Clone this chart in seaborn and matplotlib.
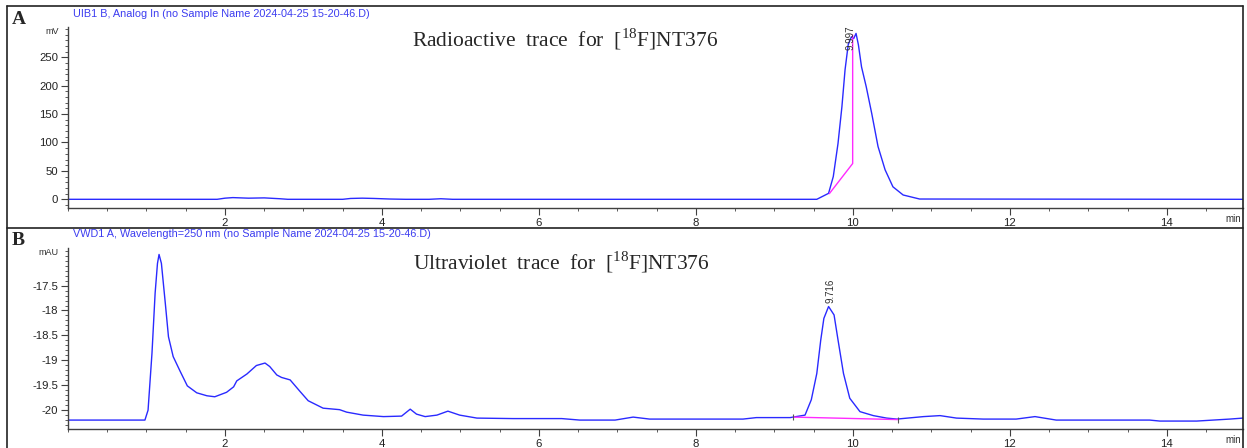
import numpy as np
import pandas as pd
import matplotlib
matplotlib.use('Agg')
import matplotlib.pyplot as plt
import matplotlib.ticker as mticker
from matplotlib.lines import Line2D
import seaborn as sns

# Radioactive trace (panel A)
rad_time = [0, 1.9, 2.0, 2.1, 2.3, 2.5, 2.7, 2.8, 3.5, 3.6, 3.75, 3.9, 4.1, 4.3, 4.6, 4.75, 4.9,
            9.54, 9.69, 9.75, 9.81, 9.86, 9.90, 9.94, 9.98, 10.01, 10.04, 10.07, 10.11, 10.17,
            10.24, 10.32, 10.41, 10.51, 10.64, 10.85, 15]
rad_mv = [0, 0, 2, 3, 2, 2.5, 1, 0, 0, 1.5, 2, 1.5, 0.5, 0, 0, 1, 0,
          0, 10.5, 40, 98, 163, 228, 272, 286, 283, 292, 272, 233, 198,
          151, 93, 52, 22, 7.6, 0.5, 0]
rad_int_time = [9.70, 9.997, 9.997]
rad_int_mv = [10, 63, 289]
rad_peak = 9.997

# UV trace (panel B)
uv_time = [0, 0.98, 1.02, 1.07, 1.11, 1.14, 1.16, 1.19, 1.24, 1.28, 1.34, 1.43, 1.52, 1.64, 1.77,
           1.87, 2.02, 2.11, 2.15, 2.28, 2.40, 2.51, 2.57, 2.66, 2.72, 2.83, 2.96, 3.06, 3.25,
           3.46, 3.55, 3.76, 4.02, 4.25, 4.36, 4.44, 4.55, 4.70, 4.84, 4.99, 5.21, 5.67, 6.29,
           6.52, 6.97, 7.20, 7.41, 8.22, 8.60, 8.77, 9.20, 9.39, 9.47, 9.54, 9.59, 9.63, 9.69,
           9.76, 9.81, 9.88, 9.96, 10.09, 10.26, 10.43, 10.56, 10.90, 11.11, 11.32, 11.66,
           12.08, 12.32, 12.59, 13.78, 13.91, 14.38, 14.80, 14.97]
uv_mau = [-20.21, -20.21, -20.01, -18.86, -17.65, -17.05, -16.87, -17.05, -17.86, -18.53, -18.93,
          -19.23, -19.52, -19.66, -19.72, -19.74, -19.65, -19.54, -19.42, -19.28, -19.11, -19.06,
          -19.13, -19.30, -19.35, -19.40, -19.64, -19.82, -19.97, -20.00, -20.05, -20.11, -20.14,
          -20.13, -19.99, -20.09, -20.14, -20.11, -20.03, -20.11, -20.17, -20.18, -20.18, -20.21,
          -20.21, -20.15, -20.19, -20.19, -20.19, -20.16, -20.16, -20.11, -19.80, -19.27, -18.60,
          -18.16, -17.92, -18.09, -18.59, -19.27, -19.77, -20.04, -20.12, -20.17, -20.19, -20.14,
          -20.12, -20.17, -20.19, -20.19, -20.14, -20.21, -20.21, -20.23, -20.23, -20.19, -20.17]
uv_int_time = [9.24, 10.58]
uv_int_mau = [-20.15, -20.20]
uv_peak = 9.716

sns.set_style('white')
plt.rcParams['font.family'] = ['Liberation Sans', 'DejaVu Sans']
plt.rcParams['axes.unicode_minus'] = False
plt.rcParams['mathtext.fontset'] = 'custom'
plt.rcParams['mathtext.rm'] = 'Liberation Serif'

W, H = 1247, 448
fig = plt.figure(figsize=(W / 100, H / 100), dpi=100)


def fx(px):
    return px / W


def fy(py):
    return 1 - py / H


trace_col = '#2a2aff'
head_col = '#3c3cf0'
axis_col = '#404040'

axA = fig.add_axes([fx(68), fy(208), (1243 - 68) / W, (208 - 27) / H])
axB = fig.add_axes([fx(68), fy(429), (1243 - 68) / W, (429 - 248) / H])

dfA = pd.DataFrame({'time': rad_time, 'mV': rad_mv})
dfB = pd.DataFrame({'time': uv_time, 'mAU': uv_mau})

sns.lineplot(data=dfA, x='time', y='mV', ax=axA, color=trace_col, linewidth=1,
             estimator=None, sort=False)
sns.lineplot(x=rad_int_time, y=rad_int_mv, ax=axA, color='#ff2aff', linewidth=1,
             estimator=None, sort=False)
sns.lineplot(data=dfB, x='time', y='mAU', ax=axB, color=trace_col, linewidth=1,
             estimator=None, sort=False)
sns.lineplot(x=uv_int_time, y=uv_int_mau, ax=axB, color='#ff2aff', linewidth=1,
             estimator=None, sort=False)
axB.plot(uv_int_time, uv_int_mau, linestyle='none', marker='|', markersize=5,
         color='#555555', markeredgewidth=0.8)

axA.set_xlim(0, 14.97)
axA.set_ylim(-15.3, 303.3)
axB.set_xlim(0, 14.97)
axB.set_ylim(-20.39, -16.74)

axA.set_yticks([0, 50, 100, 150, 200, 250])
axA.yaxis.set_minor_locator(mticker.MultipleLocator(10))
axB.set_yticks([-20, -19.5, -19, -18.5, -18, -17.5])
axB.yaxis.set_minor_locator(mticker.MultipleLocator(0.1))
axB.yaxis.set_major_formatter(mticker.FormatStrFormatter('%g'))

for ax in (axA, axB):
    ax.set_xticks([2, 4, 6, 8, 10, 12, 14])
    ax.xaxis.set_minor_locator(mticker.MultipleLocator(0.5))
    ax.set_xlabel('')
    ax.set_ylabel('')
    ax.patch.set_alpha(0)
    for s in ('top', 'right'):
        ax.spines[s].set_visible(False)
    for s in ('left', 'bottom'):
        ax.spines[s].set_color(axis_col)
        ax.spines[s].set_linewidth(1)
    ax.tick_params(which='major', direction='out', length=5, width=0.8, color=axis_col,
                   labelsize=8.2, labelcolor='#222222', pad=2, left=True, bottom=True)
    ax.tick_params(which='minor', direction='out', length=2.5, width=0.6, color=axis_col,
                   left=True, bottom=True)
    ax.text(0.998, -0.035, 'min', transform=ax.transAxes, ha='right', va='top',
            fontsize=7, color='#303030')

# peak labels
axA.text(rad_peak - 0.03, 262, '9.997', rotation=90, ha='center', va='bottom',
         fontsize=7, color='#303030')
axB.text(uv_peak, -17.85, '9.716', rotation=90, ha='center', va='bottom',
         fontsize=7, color='#303030')

# unit labels, headers, panel letters and captions
fig.text(fx(59), fy(31.7), 'mV', ha='right', va='center', fontsize=6.5, color='#303030')
fig.text(fx(59), fy(252.3), 'mAU', ha='right', va='center', fontsize=6.5, color='#303030')

fig.text(fx(73), fy(14), 'UIB1 B, Analog In (no Sample Name 2024-04-25 15-20-46.D)',
         ha='left', va='center', fontsize=7.8, color=head_col)
fig.text(fx(73), fy(234), 'VWD1 A, Wavelength=250 nm (no Sample Name 2024-04-25 15-20-46.D)',
         ha='left', va='center', fontsize=7.8, color=head_col)

fig.text(fx(12), fy(19), 'A', ha='left', va='center', fontsize=14, fontweight='bold',
         family='Liberation Serif')
fig.text(fx(12), fy(240), 'B', ha='left', va='center', fontsize=14, fontweight='bold',
         family='Liberation Serif')

fig.text(fx(565), fy(39), r'Radioactive  trace  for  [$^{18}$F]NT376', ha='center',
         va='center', fontsize=15.5, family='Liberation Serif')
fig.text(fx(561), fy(262), r'Ultraviolet  trace  for  [$^{18}$F]NT376', ha='center',
         va='center', fontsize=15.5, family='Liberation Serif')

# outer frame
frame_kw = dict(color='#222222', linewidth=1.2, transform=fig.transFigure)
fig.add_artist(Line2D([fx(7), fx(7)], [fy(6), fy(448)], **frame_kw))
fig.add_artist(Line2D([fx(1243.3), fx(1243.3)], [fy(6), fy(448)], **frame_kw))
fig.add_artist(Line2D([fx(7), fx(1243.3)], [fy(6), fy(6)], **frame_kw))
fig.add_artist(Line2D([fx(7), fx(1243.3)], [fy(227.7), fy(227.7)], **frame_kw))

fig.savefig('out.png', dpi=100)
